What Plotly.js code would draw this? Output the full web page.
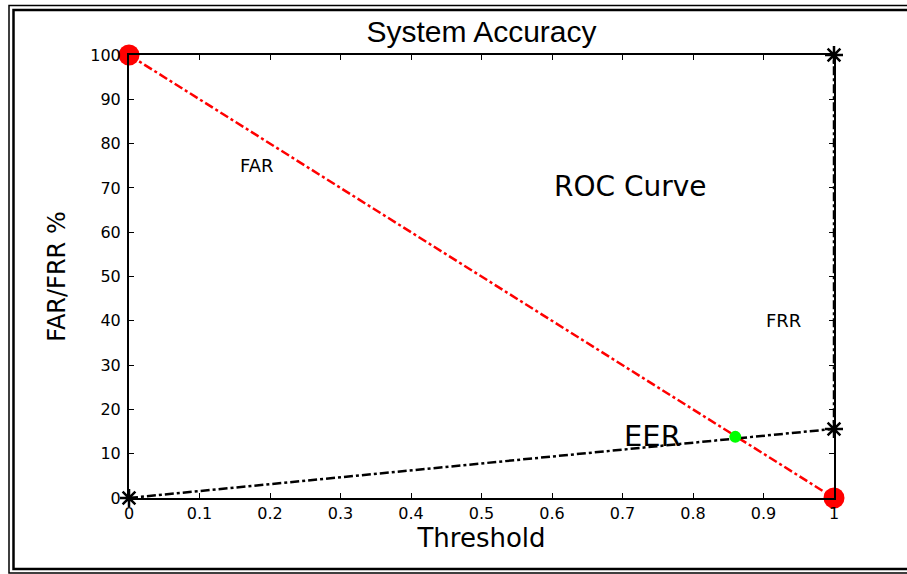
<!DOCTYPE html>
<html>
<head>
<meta charset="utf-8">
<script src="https://cdn.plot.ly/plotly-3.0.1.min.js"></script>
<style>html,body{margin:0;padding:0;background:#fff;}#chart{width:907px;height:574px;}</style>
</head>
<body>
<div id="chart"></div>
<script>
// Data
const farX = [0, 1];
const farY = [100, 0];
const frrX = [0, 1, 1];
const frrY = [0, 15.6, 100];
const eerX = [0.86];
const eerY = [13.8];
const xTicks = [0, 0.1, 0.2, 0.3, 0.4, 0.5, 0.6, 0.7, 0.8, 0.9, 1];
const xTickLabels = ['0', '0.1', '0.2', '0.3', '0.4', '0.5', '0.6', '0.7', '0.8', '0.9', '1'];
const yTicks = [0, 10, 20, 30, 40, 50, 60, 70, 80, 90, 100];
const labels = [
  {text: 'FAR', x: 0.181, y: 75, size: 18},
  {text: 'ROC Curve', x: 0.711, y: 70.3, size: 28},
  {text: 'FRR', x: 0.928, y: 40, size: 18},
  {text: 'EER', x: 0.742, y: 14, size: 29}
];

const L = 129, R = 834, T = 55, B = 498, W = 907, H = 574;
const px = v => (v - L) / (R - L);
const py = v => (B - v) / (B - T);

const arial = 'Arial, "Liberation Sans", sans-serif';
const wide = '"DejaVu Sans", Verdana, sans-serif';

const traces = [
  {x: farX, y: farY, mode: 'lines', line: {color: '#ff0000', width: 2.5, dash: 'dashdot'}, cliponaxis: false, hoverinfo: 'skip'},
  {x: frrX, y: frrY, mode: 'lines', line: {color: '#000000', width: 2.5, dash: 'dashdot'}, cliponaxis: false, hoverinfo: 'skip'},
  {x: farX, y: farY, mode: 'markers', marker: {color: '#ff0000', size: 21, symbol: 'circle'}, cliponaxis: false},
  {x: frrX, y: frrY, mode: 'markers', marker: {color: '#000000', size: 15, symbol: 'asterisk-open', line: {color: '#000', width: 2.5}}, cliponaxis: false},
  {x: eerX, y: eerY, mode: 'markers', marker: {color: '#00ff00', size: 12, symbol: 'circle'}, cliponaxis: false}
];

const layout = {
  width: W, height: H,
  margin: {l: L, r: W - R, t: T, b: H - B, pad: 0},
  paper_bgcolor: '#fff', plot_bgcolor: '#fff',
  showlegend: false,
  font: {family: wide, color: '#000'},
  title: {text: 'System Accuracy', font: {family: arial, size: 30, color: '#000'}, x: 0.5 * (L + R) / W, xanchor: 'center', y: 1 - 31 / H, yanchor: 'middle'},
  xaxis: {
    range: [0, 1], tickvals: xTicks, ticktext: xTickLabels,
    ticks: 'inside', ticklen: 5, tickwidth: 1, tickcolor: '#000',
    showline: true, linecolor: '#000', linewidth: 2, mirror: 'ticks',
    showgrid: false, zeroline: false,
    tickfont: {family: wide, size: 16, color: '#000'},
    title: {text: 'Threshold', font: {family: wide, size: 26, color: '#000'}, standoff: 5}
  },
  yaxis: {
    range: [0, 100], tickvals: yTicks,
    ticks: 'inside', ticklen: 5, tickwidth: 1, tickcolor: '#000',
    showline: true, linecolor: '#000', linewidth: 2, mirror: 'ticks',
    showgrid: false, zeroline: false,
    tickfont: {family: wide, size: 16, color: '#000'},
    ticklabelstandoff: 3,
    title: {text: 'FAR/FRR %', font: {family: wide, size: 24, color: '#000'}, standoff: 18}
  },
  annotations: labels.map(a => ({x: a.x, y: a.y, xref: 'x', yref: 'y', text: a.text, showarrow: false, font: {family: wide, size: a.size, color: '#000'}, xanchor: 'center', yanchor: 'middle'})),
  shapes: [
    {type: 'rect', xref: 'paper', yref: 'paper', x0: px(9), x1: px(915), y0: py(5.5), y1: py(573), line: {color: '#000', width: 1.5}, layer: 'below'},
    {type: 'rect', xref: 'paper', yref: 'paper', x0: px(13.5), x1: px(911), y0: py(10), y1: py(569), line: {color: '#000', width: 2.5}, layer: 'below'}
  ]
};

Plotly.newPlot('chart', traces, layout, {staticPlot: true, displayModeBar: false});
</script>
</body>
</html>
